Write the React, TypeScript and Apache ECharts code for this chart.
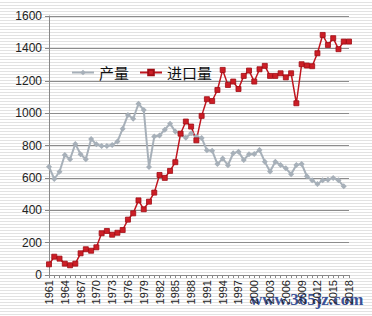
import React, { useEffect, useRef } from "react";
import * as echarts from "echarts";

const years: string[] = [];
for (let y = 1961; y <= 2018; y++) years.push(String(y));

const production = [
  669, 593, 638, 741, 715, 810, 746, 715, 840, 807,
  797, 797, 803, 824, 904, 989, 965, 1058, 1020, 667,
  855, 862, 898, 935, 886, 872, 848, 875, 855, 847,
  770, 768, 685, 720, 678, 752, 762, 711, 746, 748,
  772, 700, 640, 700, 680, 659, 623, 680, 686, 610,
  585, 562, 585, 589, 600, 585, 548,
];

const imports = [
  66, 113, 101, 70, 60, 70, 134, 159, 150, 171,
  258, 272, 249, 261, 278, 342, 381, 461, 406, 453,
  509, 618, 600, 643, 697, 873, 948, 917, 832, 983,
  1086, 1075, 1143, 1267, 1174, 1195, 1149, 1230, 1263, 1195,
  1271, 1292, 1230, 1230, 1246, 1221, 1246, 1061, 1302, 1294,
  1290, 1370, 1483, 1421, 1463, 1395, 1442, 1442,
];

const seriesNames = ["产量", "进口量"];

export default function App() {
  const ref = useRef<HTMLDivElement>(null);
  useEffect(() => {
    if (!ref.current) return;
    const chart = echarts.init(ref.current, undefined, { renderer: "svg" });
    chart.setOption({
      animation: false,
      backgroundColor: "transparent",
      textStyle: { fontFamily: "Liberation Sans, Arial, sans-serif" },
      grid: { left: 49, right: 23, top: 16, bottom: 41 },
      legend: {
        left: 66,
        top: 60,
        itemWidth: 22,
        itemHeight: 7,
        itemGap: 10,
        textStyle: { fontSize: 15, color: "#111", fontFamily: "Noto Sans CJK SC, sans-serif" },
        data: seriesNames,
      },
      xAxis: {
        type: "category",
        data: years,
        boundaryGap: false,
        axisLine: { lineStyle: { color: "#888", width: 1 } },
        axisTick: { show: true, interval: 0, length: 3, lineStyle: { color: "#888" } },
        axisLabel: {
          interval: 2,
          rotate: 90,
          fontSize: 11,
          color: "#222",
          margin: 5,
        },
        splitLine: { show: false },
      },
      yAxis: {
        type: "value",
        min: 0,
        max: 1600,
        interval: 200,
        axisLine: { show: true, lineStyle: { color: "#888", width: 1 } },
        axisTick: { show: true, length: 4, lineStyle: { color: "#888" } },
        axisLabel: {
          fontSize: 12,
          color: "#222",
          margin: 7,
          formatter: (v: number) => String(v),
        },
        splitLine: { lineStyle: { color: "#8c8c8c", width: 1 } },
      },
      series: [
        {
          name: seriesNames[0],
          type: "line",
          data: production,
          symbol: "diamond",
          symbolSize: 6,
          showAllSymbol: true,
          lineStyle: { color: "#a7b0b9", width: 2 },
          itemStyle: { color: "#a7b0b9" },
        },
        {
          name: seriesNames[1],
          type: "line",
          data: imports,
          symbol: "rect",
          symbolSize: 5,
          showAllSymbol: true,
          lineStyle: { color: "#c0161f", width: 1.5 },
          itemStyle: { color: "#cc1e26", borderColor: "#a00d14", borderWidth: 0.8 },
        },
      ],
      graphic: [
        {
          type: "text",
          left: 250,
          top: 291,
          style: {
            text: "www.365jz.com",
            fontSize: 17,
            fontWeight: "bold",
            fill: "rgba(30,60,140,0.9)",
            fontFamily: "Liberation Serif, serif",
          },
        },
      ],
    });
    return () => chart.dispose();
  }, []);
  return (
    <div
      ref={ref}
      style={{
        position: "fixed",
        left: 0,
        top: 0,
        width: 372,
        height: 316,
        background:
          "repeating-linear-gradient(to bottom, #ffffff 0px, #ffffff 2px, #e2e2e2 2px, #e2e2e2 3px)",
      }}
    />
  );
}
